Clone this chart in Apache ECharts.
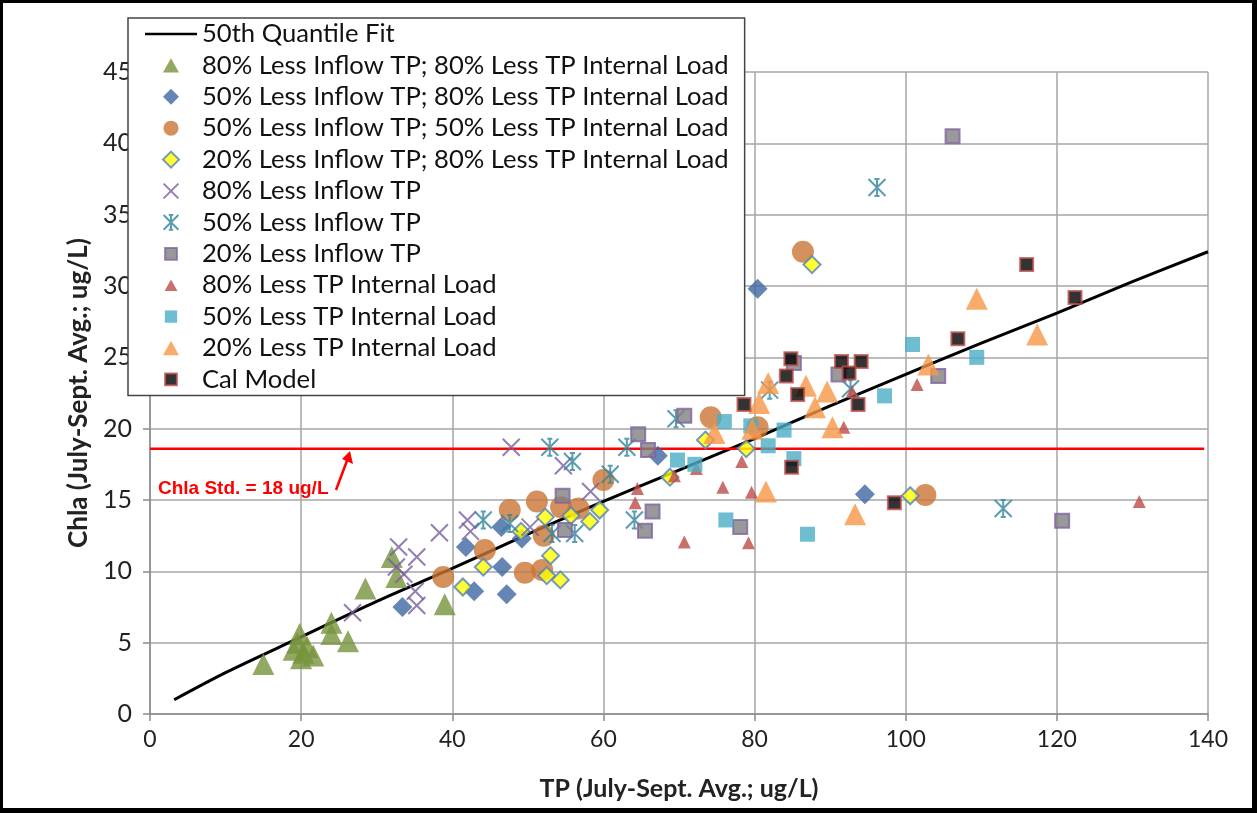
<!DOCTYPE html>
<html>
<head>
<meta charset="utf-8">
<script src="https://cdn.jsdelivr.net/npm/echarts@6/dist/echarts.min.js"></script>
<style>
html,body{margin:0;padding:0;background:#fff;}
#wrap{position:relative;width:1257px;height:813px;}
#chart{width:1257px;height:813px;}
#frame{position:absolute;left:0;top:0;width:1257px;height:813px;box-sizing:border-box;border:3px solid #000;border-right-width:5px;border-bottom-width:5px;pointer-events:none;}
</style>
</head>
<body>
<div id="wrap"><div id="chart"></div><div id="frame"></div></div>
<script>
// ---- data ----
const xTicks = [0, 20, 40, 60, 80, 100, 120, 140];
const yTicks = [0, 5, 10, 15, 20, 25, 30, 35, 40, 45];

const fitX = [3.2, 10, 20, 30, 40, 50, 60, 70, 80, 90, 100, 110, 120, 130, 140];
const fitY = [1.0, 2.9, 5.4, 7.9, 10.2, 12.6, 14.9, 17.1, 19.3, 21.6, 23.8, 26.0, 28.1, 30.3, 32.4];

const stdX = [0, 139.5];
const stdY = [18.6, 18.6];

const in80ip80 = [[15.0,3.5],[19.8,5.6],[19.5,5.0],[19.0,4.5],[20.3,4.3],[20.0,3.9],[21.6,4.1],[20.8,4.7],[24.0,6.4],[24.0,5.6],[26.2,5.1],[28.5,8.8],[32.0,11.0],[32.6,9.6],[39.0,7.7]];
const in50ip80 = [[33.4,7.5],[41.8,11.7],[42.9,8.6],[46.5,13.1],[46.6,10.3],[47.2,8.4],[49.2,12.3],[67.2,18.1],[80.4,29.8],[94.6,15.4]];
const in50ip50 = [[38.8,9.6],[44.3,11.5],[47.6,14.3],[49.6,9.9],[51.2,14.9],[51.9,10.1],[52.1,12.5],[54.4,14.5],[56.7,14.4],[60.0,16.4],[74.2,20.8],[80.4,20.1],[86.4,32.4],[102.6,15.35]];
const in20ip80 = [[41.4,8.9],[44.1,10.3],[49.1,12.8],[52.3,13.8],[53.0,11.1],[52.5,9.7],[54.3,9.4],[55.7,13.9],[58.2,13.5],[59.5,14.3],[68.8,16.6],[73.5,19.2],[78.9,18.6],[87.6,31.5],[100.6,15.3]];
const in80 = [[26.8,7.1],[32.9,11.7],[32.6,10.3],[35.3,11.0],[33.6,9.8],[35.1,8.6],[35.3,7.6],[38.3,12.7],[42.0,13.6],[42.4,12.8],[47.8,18.7],[54.7,17.4],[58.3,15.6],[50.3,13.1]];
const in50 = [[44.1,13.6],[47.6,13.35],[52.9,18.7],[55.9,17.7],[53.2,12.65],[56.2,12.65],[60.9,16.8],[63.1,18.7],[64.1,13.6],[69.6,20.7],[82.0,22.7],[92.7,22.8],[96.2,36.9],[112.9,14.4]];
const in20 = [[54.6,15.3],[54.9,12.9],[64.6,19.6],[65.9,18.5],[66.5,14.2],[65.5,12.85],[70.7,20.9],[78.1,13.1],[85.2,24.6],[91.1,23.8],[104.3,23.7],[106.2,40.5],[120.7,13.55]];
const ip80 = [[64.5,15.8],[64.2,14.8],[69.4,16.7],[70.7,12.05],[72.3,17.2],[75.8,15.9],[78.3,17.7],[79.6,15.55],[79.2,12.0],[91.8,20.1],[92.9,22.6],[101.5,23.1],[130.9,14.9]];
const ip50 = [[76.0,20.5],[79.5,20.2],[83.9,19.9],[81.8,18.8],[85.2,17.9],[69.8,17.8],[72.1,17.5],[76.2,13.6],[87.0,12.6],[97.2,22.3],[100.9,25.9],[109.4,25.0]];
const ip20 = [[74.7,19.7],[79.7,20.0],[80.6,21.8],[81.8,23.2],[86.8,23.0],[89.6,22.6],[88.0,21.5],[90.3,20.1],[81.5,15.6],[93.3,14.0],[103.0,24.5],[109.4,29.1],[117.4,26.6]];
const calModel = [[78.6,21.7],[84.2,23.7],[84.8,24.9],[85.7,22.4],[91.5,24.7],[94.1,24.7],[92.5,23.9],[93.7,21.7],[84.9,17.3],[98.5,14.8],[106.9,26.3],[116.0,31.5],[122.4,29.2]];

const names = [
  '50th Quantile Fit',
  '80% Less Inflow TP; 80% Less TP Internal Load',
  '50% Less Inflow TP; 80% Less TP Internal Load',
  '50% Less Inflow TP; 50% Less TP Internal Load',
  '20% Less Inflow TP; 80% Less TP Internal Load',
  '80% Less Inflow TP',
  '50% Less Inflow TP',
  '20% Less Inflow TP',
  '80% Less TP Internal Load',
  '50% Less TP Internal Load',
  '20% Less TP Internal Load',
  'Cal Model'
];
const stdLabel = 'Chla Std. = 18 ug/L';

// ---- chart ----
const FONT = "Lato, 'Open Sans', sans-serif";
const XPATH = 'path://M0,0L10,10M0,10L10,0';
const STARPATH = 'path://M0,0L10,10M0,10L10,0M5,0L5,10M3.5,0L6.5,0M3.5,10L6.5,10';

// legend icon shapes (path symbols keep their aspect in the legend); pad enlarges the box so the mark looks smaller
function pad(body, p) { return 'path://M' + (-p) + ',' + (-p) + 'L' + (-p) + ',' + (-p) + body + 'M' + (10 + p) + ',' + (10 + p) + 'L' + (10 + p) + ',' + (10 + p); }
const TRI = 'M5,0.5L10,9.5L0,9.5Z';
const DIA = 'M5,0L10,5L5,10L0,5Z';
const CIR = 'M0,5A5,5 0 1,1 10,5A5,5 0 1,1 0,5Z';
const SQ = 'M0,0L10,0L10,10L0,10Z';
const XS = 'M0,0L10,10M0,10L10,0';
const ST = 'M0,0L10,10M0,10L10,0M5,0L5,10M3.5,0L6.5,0M3.5,10L6.5,10';
const legendIcons = [
  'path://M0,0L0,0M0,6.8L52,6.8L52,9.2L0,9.2ZM52,16L52,16',
  pad(TRI, 0), pad(DIA, 0), pad(CIR, 0.3), pad(DIA, 0), pad(XS, 0.4), pad(ST, 0.4),
  pad(SQ, 1.8), pad(TRI, 1.2), pad(SQ, 1.5), pad(TRI, 0), pad(SQ, 1.8)
];

function scatter(name, data, symbol, size, style, z) {
  return { name, type: 'scatter', data, symbol, symbolSize: size, itemStyle: style, z: z || 3 };
}

const chart = echarts.init(document.getElementById('chart'), null, { renderer: 'canvas' });
const legendData = names.map((n, i) => ({ name: n, icon: legendIcons[i] }));
const option = {
  animation: false,
  backgroundColor: '#fff',
  textStyle: { fontFamily: FONT },
  grid: { left: 150, right: 49, top: 72, bottom: 99, containLabel: false },
  xAxis: {
    type: 'value', min: xTicks[0], max: xTicks[xTicks.length - 1], interval: 20,
    name: 'TP (July-Sept. Avg.; ug/L)', nameLocation: 'middle', nameGap: 62,
    nameTextStyle: { fontFamily: FONT, fontSize: 25, fontWeight: 'bold', color: '#222' },
    axisLine: { lineStyle: { color: '#8c8c8c', width: 1.5 } },
    axisTick: { show: true, length: 7, lineStyle: { color: '#8c8c8c', width: 1.5 } },
    axisLabel: { fontFamily: FONT, fontSize: 23, color: '#222', margin: 14 },
    splitLine: { show: true, lineStyle: { color: '#a6a6a6', width: 1.5 } }
  },
  yAxis: {
    type: 'value', min: yTicks[0], max: yTicks[yTicks.length - 1], interval: 5,
    name: 'Chla (July-Sept. Avg.; ug/L)', nameLocation: 'middle', nameGap: 58, nameRotate: 90,
    nameTextStyle: { fontFamily: FONT, fontSize: 26, fontWeight: 'bold', color: '#222' },
    axisLine: { show: true, lineStyle: { color: '#8c8c8c', width: 1.5 } },
    axisTick: { show: true, length: 7, lineStyle: { color: '#8c8c8c', width: 1.5 } },
    axisLabel: { fontFamily: FONT, fontSize: 25, color: '#222', margin: 18 },
    splitLine: { show: true, lineStyle: { color: '#a6a6a6', width: 1.5 } }
  },
  legend: {
    orient: 'vertical', left: 128, top: 18,
    padding: [3, 16, 3, 17],
    backgroundColor: '#fff', borderColor: '#444', borderWidth: 1.5, borderRadius: 0,
    itemWidth: 52, itemHeight: 16, itemGap: 5.4,
    textStyle: { fontFamily: FONT, fontSize: 25.6, color: '#111' },
    data: legendData,
    z: 10
  },
  series: [
    { name: names[0], type: 'line', data: fitX.map((x, i) => [x, fitY[i]]), symbol: 'none', smooth: 0.3,
      lineStyle: { color: '#000', width: 3 }, itemStyle: { color: '#000' }, z: 2 },
    { name: 'std', type: 'line', data: stdX.map((x, i) => [x, stdY[i]]), symbol: 'none',
      lineStyle: { color: '#ff0000', width: 2.5 }, z: 2, silent: true },
    scatter(names[1], in80ip80, 'triangle', 22, { color: '#77933C' }),
    scatter(names[2], in50ip80, 'diamond', 20, { color: '#3E68A2' }),
    scatter(names[3], in50ip50, 'circle', 22, { color: '#C97634' }),
    scatter(names[4], in20ip80, 'diamond', 17, { color: '#FFFF00', borderColor: '#4F81BD', borderWidth: 2 }),
    scatter(names[5], in80, XPATH, 17, { color: 'rgba(0,0,0,0)', borderColor: '#7B5E9E', borderWidth: 2 }),
    scatter(names[6], in50, STARPATH, 17, { color: 'rgba(0,0,0,0)', borderColor: '#31859C', borderWidth: 2 }),
    scatter(names[7], in20, 'rect', 14, { color: '#808080', borderColor: '#8064A2', borderWidth: 2 }),
    scatter(names[8], ip80, 'triangle', 13, { color: '#BE4B48' }),
    scatter(names[9], ip50, 'rect', 15, { color: '#4BACC6' }),
    scatter(names[10], ip20, 'triangle', 22, { color: '#F79646' }),
    scatter(names[11], calModel, 'rect', 13, { color: '#000', borderColor: '#C0504D', borderWidth: 2 })
  ],
  graphic: [
    { type: 'text', left: 158, top: 479, z: 20,
      style: { text: stdLabel, fill: '#ff0000', font: "bold 19px 'Liberation Sans', Arial, sans-serif" } },
    { type: 'line', z: 20, shape: { x1: 336, y1: 490, x2: 348, y2: 458 },
      style: { stroke: '#ff0000', lineWidth: 2.5 } },
    { type: 'polygon', z: 20, shape: { points: [[350, 451], [353, 464], [342, 459]] },
      style: { fill: '#ff0000' } }
  ]
};
chart.setOption(option);
</script>
</body>
</html>
